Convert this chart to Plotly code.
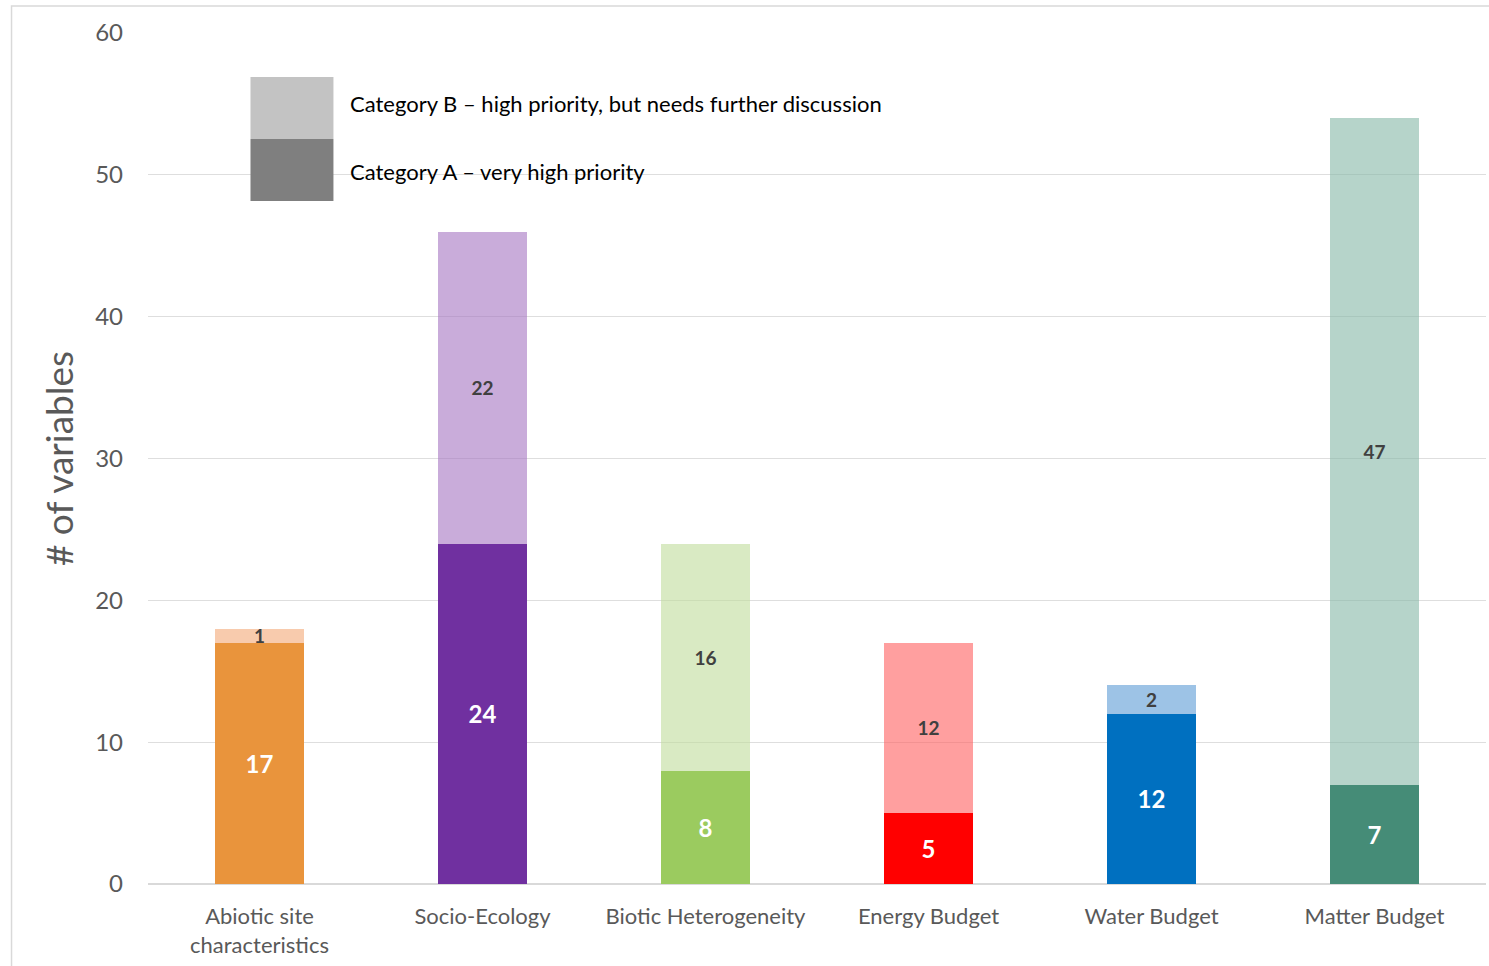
import plotly.graph_objects as go

# Categories and counts of variables per priority class
categories = ["Abiotic site<br>characteristics", "Socio-Ecology", "Biotic Heterogeneity",
              "Energy Budget", "Water Budget", "Matter Budget"]
cat_a = [17, 24, 8, 5, 12, 7]    # Category A – very high priority
cat_b = [1, 22, 16, 12, 2, 47]   # Category B – high priority, but needs further discussion

# Per-theme colours: solid for A, translucent tint for B
colors_a = ["#E9943C", "#7030A0", "#9BCB5F", "#FF0000", "#0070C0", "#458C77"]
colors_b = ["rgba(243,168,118,0.6)", "rgba(165,117,193,0.6)", "rgba(192,220,155,0.6)",
            "rgba(255,95,95,0.6)", "rgba(92,155,213,0.6)", "rgba(133,183,167,0.6)"]

legend_a = "Category A – very high priority"
legend_b = "Category B – high priority, but needs further discussion"

FONT = "Lato, 'Open Sans', sans-serif"
GREY = "#595959"

fig = go.Figure()
fig.add_trace(go.Bar(
    x=categories, y=cat_a, name=legend_a,
    marker=dict(color=colors_a, line=dict(width=0)),
    text=cat_a, texttemplate="<b>%{text}</b>",
    textposition="inside", insidetextanchor="middle", constraintext="none", textangle=0,
    textfont=dict(family=FONT, size=24, color="white"),
    showlegend=False,
))
fig.add_trace(go.Bar(
    x=categories, y=cat_b, name=legend_b,
    marker=dict(color=colors_b, line=dict(width=0)),
    text=cat_b, texttemplate="<b>%{text}</b>",
    textposition="inside", insidetextanchor="middle", constraintext="none", textangle=0,
    textfont=dict(family=FONT, size=19, color="#404040"),
    showlegend=False,
))

# Hand-drawn key: two stacked grey swatches with labels
sw_x0, sw_x1 = 0.0766, 0.1386
sw_top, sw_mid, sw_bot = 0.9483, 0.8754, 0.8026
shapes = [
    dict(type="rect", xref="paper", yref="paper", x0=sw_x0, x1=sw_x1, y0=sw_mid, y1=sw_top,
         fillcolor="#C3C3C3", line=dict(width=0), layer="above"),
    dict(type="rect", xref="paper", yref="paper", x0=sw_x0, x1=sw_x1, y0=sw_bot, y1=sw_mid,
         fillcolor="#7F7F7F", line=dict(width=0), layer="above"),
    # outer chart frame
    dict(type="rect", xref="paper", yref="paper", x0=-0.102, x1=1.2, y0=-0.3, y1=1.0317,
         fillcolor="rgba(0,0,0,0)", line=dict(color="#D9D9D9", width=1.5), layer="below"),
]
annotations = [
    dict(xref="paper", yref="paper", x=0.1495, y=0.9177, text=legend_b,
         showarrow=False, xanchor="left", yanchor="middle",
         font=dict(family=FONT, size=22, color="#000000")),
    dict(xref="paper", yref="paper", x=0.1495, y=0.8367, text=legend_a,
         showarrow=False, xanchor="left", yanchor="middle",
         font=dict(family=FONT, size=22, color="#000000")),
]

fig.update_layout(
    width=1489, height=966,
    margin=dict(l=148, r=3, t=33, b=82),
    paper_bgcolor="white", plot_bgcolor="white",
    barmode="stack", bargap=0.6,
    font=dict(family=FONT, color=GREY),
    shapes=shapes, annotations=annotations,
    showlegend=False,
    xaxis=dict(
        showgrid=False, showline=False, ticks="", ticklabelstandoff=17,
        tickfont=dict(family=FONT, size=22, color=GREY),
    ),
    yaxis=dict(
        range=[0, 60], dtick=10, showgrid=True, gridcolor="#DEDEDE", gridwidth=1,
        zeroline=True, zerolinecolor="#D9D9D9", zerolinewidth=1.5,
        showline=False, ticks="", ticklabelstandoff=24,
        tickfont=dict(family=FONT, size=24, color=GREY),
        title=dict(text="# of variables", font=dict(family=FONT, size=37, color=GREY), standoff=10),
    ),
)

fig.write_html("out.html")
